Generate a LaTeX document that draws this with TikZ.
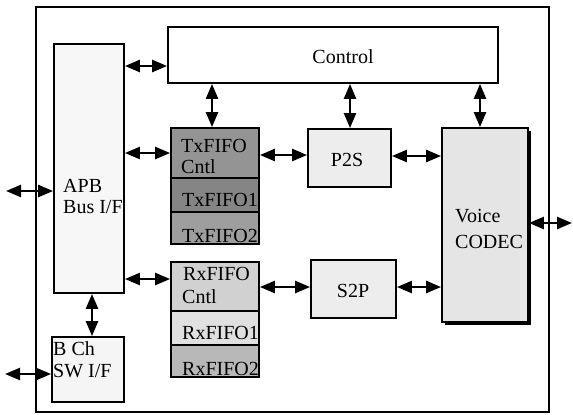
\documentclass[tikz,border=0pt]{standalone}
\usepackage{fontspec}
\setmainfont{Liberation Serif}
\usetikzlibrary{arrows.meta,shadows}
\begin{document}
\begin{tikzpicture}[x=1pt,y=-1pt,
  blk/.style={draw=black, line width=1.8pt, rectangle, inner sep=0pt},
  lbl/.style={anchor=base west, inner sep=0pt, font=\fontsize{20}{22}\selectfont},
  clbl/.style={anchor=base, inner sep=0pt, font=\fontsize{20}{22}\selectfont},
  link/.style={line width=2.4pt, {Triangle[length=15pt,width=12pt]}-{Triangle[length=15pt,width=12pt]}}
]
\useasboundingbox (0,0) rectangle (573,415);
\fill[white] (0,0) rectangle (573,415);

% outer frame
\node[draw=black, line width=1.6pt, rectangle, inner sep=0pt, minimum width=513pt, minimum height=405pt] (frame) at (292.5,209.5) {};

% blocks
\node[blk, fill=white, minimum width=330pt, minimum height=56pt] (ctl) at (333,55) {};
\node[blk, fill=black!3, minimum width=70pt, minimum height=249pt] (apb) at (89,168.5) {};
\node[blk, fill=black!42, minimum width=88pt, minimum height=50pt] (txc) at (215,153) {};
\node[blk, fill=black!48, minimum width=88pt, minimum height=34pt] (tx1) at (215,195) {};
\node[blk, fill=black!38, minimum width=88pt, minimum height=32pt] (tx2) at (215,228) {};
\node[blk, fill=black!7, minimum width=83pt, minimum height=58pt] (p2s) at (349.5,158) {};
\node[blk, fill=black!10, minimum width=86pt, minimum height=194pt,
      drop shadow={shadow xshift=3pt, shadow yshift=-3pt, fill=black, opacity=1}] (voice) at (485,225) {};
\node[blk, fill=black!18, minimum width=88pt, minimum height=49pt] (rxc) at (215,286.5) {};
\node[blk, fill=black!12, minimum width=88pt, minimum height=34pt] (rx1) at (215,328) {};
\node[blk, fill=black!28, minimum width=88pt, minimum height=32pt] (rx2) at (215,361) {};
\node[blk, fill=black!7, minimum width=85pt, minimum height=58pt] (s2p) at (353.5,289) {};
\node[blk, fill=black!4, minimum width=72pt, minimum height=65pt] (bch) at (88,369.5) {};

% labels
\node[clbl] (ctlt) at (343,63) {Control};
\node[lbl] (apbt1) at (63,192) {APB};
\node[lbl] (apbt2) at (63,213) {Bus I/F};
\node[lbl] (txct1) at (181,152) {TxFIFO};
\node[lbl] (txct2) at (181,173) {Cntl};
\node[lbl] (tx1t) at (182,206) {TxFIFO1};
\node[lbl] (tx2t) at (182,242) {TxFIFO2};
\node[clbl] (p2st) at (347,166) {P2S};
\node[lbl] (voicet1) at (455,222) {Voice};
\node[lbl] (voicet2) at (455,248) {CODEC};
\node[lbl] (rxct1) at (183,280) {RxFIFO};
\node[lbl] (rxct2) at (182,303) {Cntl};
\node[lbl] (rx1t) at (182,339) {RxFIFO1};
\node[lbl] (rx2t) at (182,375) {RxFIFO2};
\node[clbl] (s2pt) at (353,297) {S2P};
\node[lbl] (bcht1) at (53,355) {B Ch};
\node[lbl] (bcht2) at (53,377) {SW I/F};

% free ends
\coordinate (aout) at (6,191);
\coordinate (bout) at (5,374);
\coordinate (vout) at (572,223);

% connectors
\draw[link] (apb.east |- 0,66) -- (ctl.west |- 0,66);
\draw[link] (apb.east |- 0,153) -- (txc.west |- 0,153);
\draw[link] (apb.east |- 0,279) -- (rxc.west |- 0,279);
\draw[link] (ctl.south -| 212,0) -- (txc.north -| 212,0);
\draw[link] (ctl.south -| 350,0) -- (p2s.north -| 350,0);
\draw[link] (ctl.south -| 480,0) -- (voice.north -| 480,0);
\draw[link] (txc.east |- 0,155) -- (p2s.west |- 0,155);
\draw[link] (p2s.east |- 0,156) -- (voice.west |- 0,156);
\draw[link] (rxc.east |- 0,287) -- (s2p.west |- 0,287);
\draw[link] (s2p.east |- 0,287) -- (voice.west |- 0,287);
\draw[link] (voice.east |- 0,223) -- (vout);
\draw[link] (aout) -- (apb.west |- aout);
\draw[link] (apb.south -| 92,0) -- (bch.north -| 92,0);
\draw[link] (bout) -- (bch.west |- bout);
\end{tikzpicture}
\end{document}
